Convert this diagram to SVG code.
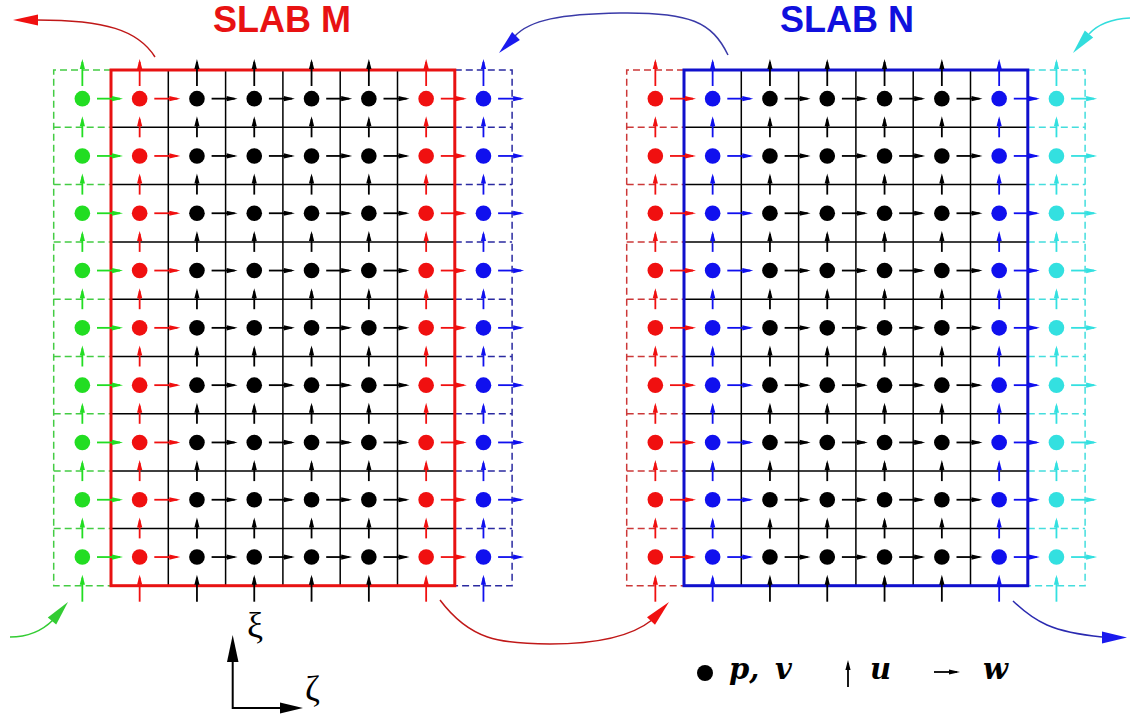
<svg xmlns="http://www.w3.org/2000/svg" width="1135" height="717" viewBox="0 0 1135 717">
<style>
.grid{stroke:#000;stroke-width:1.5;fill:none}
.sh{stroke:currentColor;stroke-width:1.8;fill:none}
.hd{fill:currentColor;stroke:none}
.dot{fill:currentColor}
.dash{fill:none;stroke-width:1.5;stroke-dasharray:7 4}
.border{fill:none;stroke-width:3}
.title{font-family:"Liberation Sans",Arial,sans-serif;font-weight:bold;font-size:36px}
.greek{font-family:"Liberation Serif","DejaVu Serif",serif;font-size:36px}
.leg{font-family:"DejaVu Serif","Liberation Serif",serif;font-weight:bold;font-style:italic;font-size:29px}
.curve{fill:none;stroke-width:1.5}
</style>
<defs>
<g id="ua"><path class="sh" d="M0,10V-8"/><path class="hd" d="M0,-11L2.6,-1H-2.6Z"/></g>
<g id="uL"><path class="sh" d="M0,16V-8"/><path class="hd" d="M0,-11L2.6,-1H-2.6Z"/></g>
<g id="wa"><path class="sh" d="M-14,0H9"/><path class="hd" d="M12,0L1,-2.6V2.6Z"/></g>
<g id="col">
<use href="#uL" y="0"/><use href="#ua" y="57.3"/><use href="#ua" y="114.6"/><use href="#ua" y="171.9"/><use href="#ua" y="229.2"/><use href="#ua" y="286.5"/><use href="#ua" y="343.8"/><use href="#ua" y="401.1"/><use href="#ua" y="458.4"/><use href="#uL" y="515.7"/>
<circle class="dot" cx="0" cy="28.65" r="7.8"/><circle class="dot" cx="0" cy="85.95" r="7.8"/><circle class="dot" cx="0" cy="143.25" r="7.8"/><circle class="dot" cx="0" cy="200.55" r="7.8"/><circle class="dot" cx="0" cy="257.85" r="7.8"/><circle class="dot" cx="0" cy="315.15" r="7.8"/><circle class="dot" cx="0" cy="372.45" r="7.8"/><circle class="dot" cx="0" cy="429.75" r="7.8"/><circle class="dot" cx="0" cy="487.05" r="7.8"/>
<use href="#wa" x="28.65" y="28.65"/><use href="#wa" x="28.65" y="85.95"/><use href="#wa" x="28.65" y="143.25"/><use href="#wa" x="28.65" y="200.55"/><use href="#wa" x="28.65" y="257.85"/><use href="#wa" x="28.65" y="315.15"/><use href="#wa" x="28.65" y="372.45"/><use href="#wa" x="28.65" y="429.75"/><use href="#wa" x="28.65" y="487.05"/>
</g>
<g id="ghostL"><path d="M111,70H53.7V585.7H111M53.7,127.3H111M53.7,184.6H111M53.7,241.9H111M53.7,299.2H111M53.7,356.5H111M53.7,413.8H111M53.7,471.1H111M53.7,528.4H111"/></g>
<g id="ghostR"><path d="M454.8,70H512.1V585.7H454.8M454.8,127.3H512.1M454.8,184.6H512.1M454.8,241.9H512.1M454.8,299.2H512.1M454.8,356.5H512.1M454.8,413.8H512.1M454.8,471.1H512.1M454.8,528.4H512.1"/></g>
<path id="inner" class="grid" d="M168.3,70V585.7M225.6,70V585.7M282.9,70V585.7M340.2,70V585.7M397.5,70V585.7M111,127.3H454.8M111,184.6H454.8M111,241.9H454.8M111,299.2H454.8M111,356.5H454.8M111,413.8H454.8M111,471.1H454.8M111,528.4H454.8"/>
</defs>

<g id="slab-M">
<use href="#ghostL" class="dash" stroke="#44cc44"/>
<use href="#ghostR" class="dash" stroke="#2a2aa0"/>
<use href="#inner"/>
<rect class="border" stroke="#e81212" x="111" y="70" width="343.8" height="515.7"/>
<use href="#col" x="82.35" y="70" style="color:#22dd22"/>
<use href="#col" x="139.65" y="70" style="color:#f01010"/>
<use href="#col" x="196.95" y="70" style="color:#000"/>
<use href="#col" x="254.25" y="70" style="color:#000"/>
<use href="#col" x="311.55" y="70" style="color:#000"/>
<use href="#col" x="368.85" y="70" style="color:#000"/>
<use href="#col" x="426.15" y="70" style="color:#f01010"/>
<use href="#col" x="483.45" y="70" style="color:#1010ee"/>
<text class="title" fill="#e81212" x="213" y="32">SLAB M</text>
</g>

<g id="slab-N">
<g transform="translate(573,0)">
<use href="#ghostL" class="dash" stroke="#cc3838"/>
<use href="#ghostR" class="dash" stroke="#44dddd"/>
<use href="#inner"/>
<rect class="border" stroke="#1010cc" x="111" y="70" width="343.8" height="515.7"/>
<use href="#col" x="82.35" y="70" style="color:#f01010"/>
<use href="#col" x="139.65" y="70" style="color:#1010ee"/>
<use href="#col" x="196.95" y="70" style="color:#000"/>
<use href="#col" x="254.25" y="70" style="color:#000"/>
<use href="#col" x="311.55" y="70" style="color:#000"/>
<use href="#col" x="368.85" y="70" style="color:#000"/>
<use href="#col" x="426.15" y="70" style="color:#1010ee"/>
<use href="#col" x="483.45" y="70" style="color:#33e0e0"/>
</g>
<text class="title" fill="#1010dd" x="780" y="32">SLAB N</text>
</g>

<g id="connectors">
<path class="curve" stroke="#c01818" d="M155,57 C138,30 105,20 37,20"/>
<polygon fill="#f01010" points="13,20 38,14.5 38,25.5"/>
<path class="curve" stroke="#3a3aa8" d="M728,55 C712,22 690,12 620,13 C560,14 530,20 515,36"/>
<polygon fill="#1a1aee" points="499,53 519.9,39.9 512.1,32.1"/>
<path class="curve" stroke="#33dddd" d="M1130,18 C1112,19 1098,24 1089,34"/>
<polygon fill="#33dddd" points="1073,53 1093.2,37.5 1084.8,30.5"/>
<path class="curve" stroke="#33cc33" d="M10,637 C28,637 42,631 53,620"/>
<polygon fill="#33cc33" points="68,602 56.2,624.5 47.8,617.5"/>
<path class="curve" stroke="#c01818" d="M440,600 C470,640 500,644 550,644 C600,644 632,636 652,620"/>
<polygon fill="#f01010" points="669,602 655,624.8 647,617.2"/>
<path class="curve" stroke="#2a2ab0" d="M1013,601 C1035,622 1052,632 1102,637"/>
<polygon fill="#1a1aee" points="1127,637.5 1102,631.5 1102,643.5"/>
</g>

<g id="axes">
<path d="M232.7,660V708H282" fill="none" stroke="#000" stroke-width="2"/>
<polygon points="232.7,635 238.5,662 227,662" fill="#000"/>
<polygon points="303,708 280,702.5 280,713.5" fill="#000"/>
<text class="greek" x="247" y="637">ξ</text>
<text class="greek" x="305" y="701">ζ</text>
</g>

<g id="legend" style="color:#000">
<circle cx="705" cy="673" r="8" fill="#000"/>
<text class="leg" x="729" y="679">p,<tspan x="775">v</tspan></text>
<use href="#uL" x="848" y="671"/>
<text class="leg" x="870" y="679">u</text>
<use href="#wa" x="948" y="672"/>
<text class="leg" x="983" y="679">w</text>
</g>
</svg>
